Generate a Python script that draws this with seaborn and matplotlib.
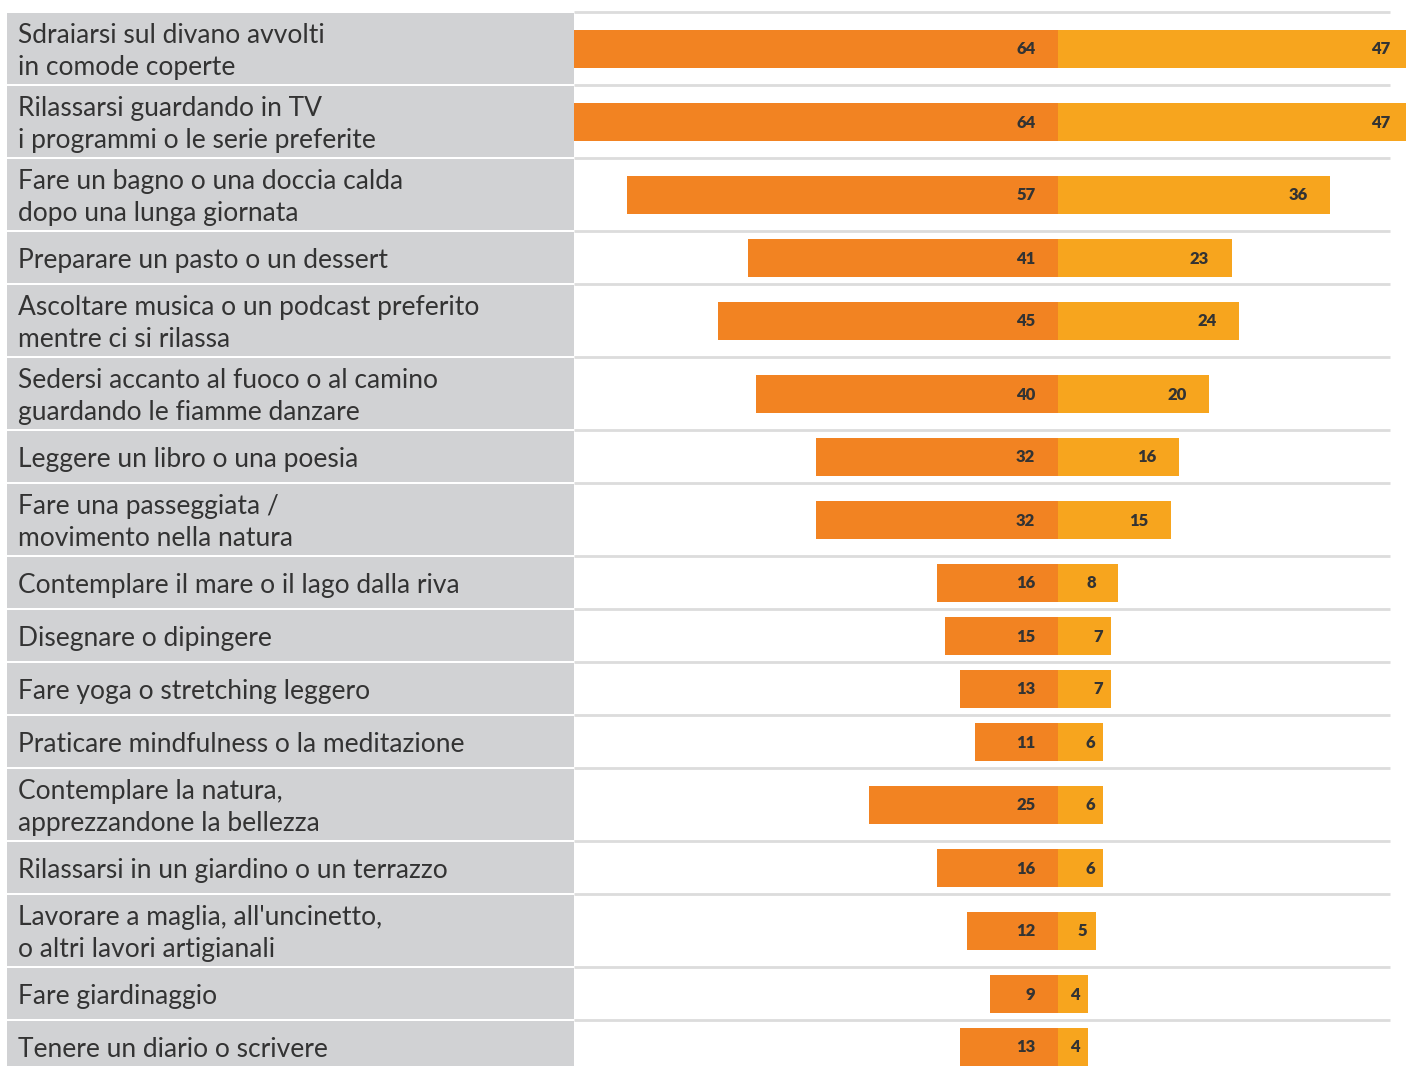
import matplotlib
matplotlib.use("Agg")
import matplotlib.pyplot as plt
import seaborn as sns
import pandas as pd

# Activities, left-side and right-side shares (%)
activities = [
    "Sdraiarsi sul divano avvolti\nin comode coperte",
    "Rilassarsi guardando in TV\ni programmi o le serie preferite",
    "Fare un bagno o una doccia calda\ndopo una lunga giornata",
    "Preparare un pasto o un dessert",
    "Ascoltare musica o un podcast preferito\nmentre ci si rilassa",
    "Sedersi accanto al fuoco o al camino\nguardando le fiamme danzare",
    "Leggere un libro o una poesia",
    "Fare una passeggiata /\nmovimento nella natura",
    "Contemplare il mare o il lago dalla riva",
    "Disegnare o dipingere",
    "Fare yoga o stretching leggero",
    "Praticare mindfulness o la meditazione",
    "Contemplare la natura,\napprezzandone la bellezza",
    "Rilassarsi in un giardino o un terrazzo",
    "Lavorare a maglia, all'uncinetto,\no altri lavori artigianali",
    "Fare giardinaggio",
    "Tenere un diario o scrivere",
]
left_values = [64, 64, 57, 41, 45, 40, 32, 32, 16, 15, 13, 11, 25, 16, 12, 9, 13]
right_values = [47, 47, 36, 23, 24, 20, 16, 15, 8, 7, 7, 6, 6, 6, 5, 4, 4]

DARK = "#F28322"
LIGHT = "#F7A51E"
PANEL = "#D1D2D4"
RULE = "#DCDCDC"
TEXT = "#333333"

W, H = 1406, 1066
fig = plt.figure(figsize=(W / 100, H / 100), dpi=100)

# Row layout in pixel units: two-line rows are taller
top = 12
row_h = [73 if "\n" in a else 53 for a in activities]
edges = [top]
for h in row_h:
    edges.append(edges[-1] + h)
centers = [(edges[i] + edges[i + 1]) / 2 for i in range(len(activities))]

df = pd.DataFrame({
    "activity": activities,
    "ypos": centers,
    "left": [-v for v in left_values],
    "right": right_values,
})

# Bar panel: x=0 at the centre line, 7.56 px per percentage point
x0_px, x1_px, mid_px = 574, W, 1058
scale = 7.56
ax = fig.add_axes([x0_px / W, 0, (x1_px - x0_px) / W, 1])
sns.barplot(data=df, x="left", y="ypos", orient="h", native_scale=True,
            color=DARK, saturation=1, width=38 / 53, ax=ax)
sns.barplot(data=df, x="right", y="ypos", orient="h", native_scale=True,
            color=LIGHT, saturation=1, width=38 / 53, ax=ax)
ax.set_xlim(-(mid_px - x0_px) / scale, (x1_px - mid_px) / scale)
ax.set_ylim(H, 0)
ax.axis("off")
for p in ax.patches:
    p.set_edgecolor("none")

# Row separators on the bar side
rule_end = (1390 - mid_px) / scale
for e in edges:
    ax.plot([-(mid_px - x0_px) / scale, rule_end], [e, e], color=RULE,
            lw=2, solid_capstyle="butt", zorder=0)

# Value labels
for y, lv, rv in zip(centers, left_values, right_values):
    ax.text(-3, y + 1, str(lv), ha="right", va="center", fontsize=12,
            fontweight="heavy", color=TEXT, family="Lato")
    off = 3 if rv >= 8 else 1.1
    ax.text(rv - off, y + 1, str(rv), ha="right", va="center", fontsize=12,
            fontweight="heavy", color=TEXT, family="Lato")

# Label panel
lax = fig.add_axes([7 / W, 0, (x0_px - 7) / W, 1])
lax.set_xlim(7, x0_px)
lax.set_ylim(H, 0)
lax.axis("off")
for i, a in enumerate(activities):
    lax.axhspan(edges[i] + 1, edges[i + 1] - 1, color=PANEL, lw=0)
    lax.text(18, centers[i] + 3, a, ha="left", va="center", fontsize=19,
             color=TEXT, family="Lato", fontweight="normal", linespacing=1.32)

fig.savefig("out.png", dpi=100, facecolor="white")
